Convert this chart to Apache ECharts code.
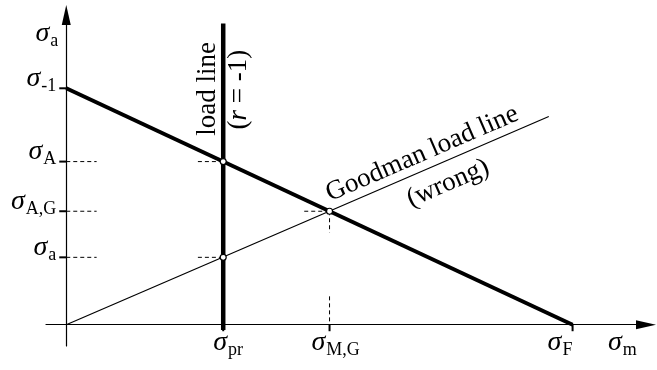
<!DOCTYPE html>
<html>
<head>
<meta charset="utf-8">
<script src="https://cdn.jsdelivr.net/npm/echarts@6/dist/echarts.min.js"></script>
<style>
  html, body { margin: 0; padding: 0; background: #fff; }
  #main { width: 657px; height: 370px; }
</style>
</head>
<body>
<div id="main"></div>
<script>
// stress values (sigma_F = sigma_-1 = 100)
const xTicks = [31, 52, 100];                 // sigma_pr, sigma_M,G, sigma_F
const xTickSubs = ['pr', 'M,G', 'F'];
const yTicks = [100, 69, 48, 28.5];           // sigma_-1, sigma_A, sigma_A,G, sigma_a
const yTickSubs = ['-1', 'A', 'A,G', 'a'];

const failLine = [[0, 100], [100, 0]];        // sigma_-1 -> sigma_F
const loadLine = [[31, -2.2], [31, 127.4]];   // r = -1
const goodmanLoadLine = [[0, 0], [95.3, 88.1]];
const crossPoints = [[31, 69], [52, 48], [31, 28.5]];

// dashed helper pieces
const guides = [
  [[0, 69], [6, 69]], [[26, 69], [31, 69]],
  [[0, 48], [6, 48]], [[47, 48], [52, 48]],
  [[0, 28.5], [6, 28.5]], [[26, 28.5], [31, 28.5]],
  [[52, 48], [52, 39]], [[52, 12], [52, 0]]
];

const FONT = 'Liberation Serif';
const chart = echarts.init(document.getElementById('main'));

const rich = {
  s: { fontFamily: FONT, fontStyle: 'italic', fontSize: 28, lineHeight: 28, padding: [0, 1, 3, 0], verticalAlign: 'bottom', color: '#000' },
  b: { fontFamily: FONT, fontSize: 18, lineHeight: 18, verticalAlign: 'bottom', color: '#000' },
  t: { fontFamily: FONT, fontSize: 27, color: '#000' },
  i: { fontFamily: FONT, fontSize: 27, fontStyle: 'italic', color: '#000' }
};
const sig = sub => '{s|σ}{b|' + sub + '}';

function line(data, width, type) {
  return {
    type: 'line', data: data, symbol: 'none', silent: true, z: 3,
    lineStyle: { color: '#000', width: width, type: type || 'solid', cap: 'butt' }
  };
}

const series = guides.map(g => line(g, 1, [4, 3]));
series.push(line(goodmanLoadLine, 1.2));
series.push(line(failLine, 4));
series.push(line(loadLine, 4.5));
series.push({
  type: 'scatter', data: crossPoints, symbol: 'circle', symbolSize: 6, z: 10, silent: true,
  itemStyle: { color: '#fff', borderColor: '#000', borderWidth: 1.2, opacity: 1 }
});

const axisBase = {
  type: 'value',
  splitLine: { show: false },
  axisLabel: { show: false },
  axisTick: { show: false },
  axisLine: { onZero: true, symbol: ['none', 'triangle'], symbolSize: [9, 20], lineStyle: { color: '#000', width: 1.2 } }
};

chart.setOption({
  animation: false,
  backgroundColor: '#fff',
  grid: { left: 46, right: 11, top: 15, bottom: 24 },
  xAxis: Object.assign({ min: -4, max: 114.5 }, axisBase),
  yAxis: Object.assign({ min: -9, max: 131 }, axisBase),
  series: series
});

// ticks and texts, placed through the axes
const px = p => chart.convertToPixel({ gridIndex: 0 }, p);
const graphic = [];
function tick(p, dx, dy) {
  graphic.push({
    type: 'line', silent: true, z: 50,
    shape: { x1: p[0], y1: p[1], x2: p[0] + dx, y2: p[1] + dy },
    style: { stroke: '#000', lineWidth: 2 }
  });
}
function txt(p, text, align, vAlign, rot) {
  graphic.push({
    type: 'text', x: p[0], y: p[1], rotation: rot || 0, silent: true,
    style: { text: text, rich: rich, align: align, verticalAlign: vAlign, textAlign: align, textVerticalAlign: vAlign }
  });
}

yTicks.forEach((v, i) => {
  const p = px([0, v]);
  tick([p[0] + 0.5, p[1]], -7.5, 0);
  txt([p[0] - 10, p[1] - 7], sig(yTickSubs[i]), 'right', 'middle');
});
const xOff = [-10, -18, -25];
xTicks.forEach((v, i) => {
  const p = px([v, 0]);
  tick([p[0], p[1] - 0.5], 0, 7);
  txt([p[0] + xOff[i], p[1] + 7], sig(xTickSubs[i]), 'left', 'top');
});
// axis names
const yName = px([0, 118.9]);
txt([yName[0] - 8, yName[1] - 7], sig('a'), 'right', 'middle');
const xName = px([107, 0]);
txt([xName[0], xName[1] + 7], sig('m'), 'left', 'top');

// annotations
txt(px([28.0, 99.8]), '{t|load line}', 'center', 'middle', Math.PI / 2);
txt(px([34.1, 99.4]), '{t|(}{i|r}{t| = -1)}', 'center', 'middle', Math.PI / 2);
const g0 = px(goodmanLoadLine[0]), g1 = px(goodmanLoadLine[1]);
const ang = Math.atan2(g0[1] - g1[1], g1[0] - g0[0]);
txt(px([70.3, 72.3]), '{t|Goodman load line}', 'center', 'middle', ang);
txt(px([75.4, 59.8]), '{t|(wrong)}', 'center', 'middle', ang);

chart.setOption({ graphic: graphic });
</script>
</body>
</html>
